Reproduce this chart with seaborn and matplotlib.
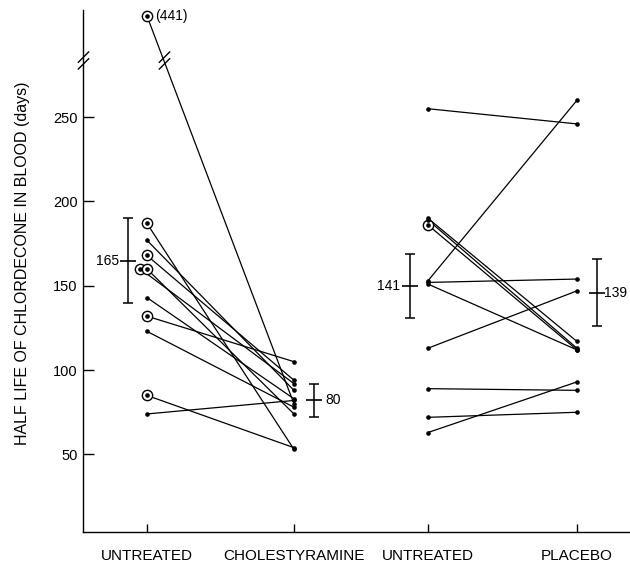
import numpy as np
import pandas as pd
import matplotlib
matplotlib.use("Agg")
import matplotlib.pyplot as plt
from matplotlib.path import Path
import seaborn as sns

# ---------------- data ----------------
conditions = ["UNTREATED", "CHOLESTYRAMINE", "UNTREATED", "PLACEBO"]

# Cholestyramine study: half life (days) untreated -> treated, per patient
chol_untreated = [441, 187, 177, 168, 160, 160, 143, 132, 123, 85, 74]
chol_treated = [80, 53, 88, 94, 92, 74, 83, 105, 78, 54, 82]
chol_circled = [True, True, False, True, True, True, False, True, False, True, False]

# Placebo study: half life (days) untreated -> placebo, per patient
plac_untreated = [255, 190, 189, 186, 153, 152, 151, 113, 89, 72, 63]
plac_treated = [246, 117, 113, 112, 260, 154, 112, 147, 88, 75, 93]
plac_circled = [False, False, False, True, False, False, False, False, False, False, False]

# group mean bars (as drawn) and their printed labels
mean_values = [165, 82, 150, 146]
mean_halfrange = [25, 10, 19, 20]
mean_labels = ["165", "80", "141", "139"]

# ---------------- layout ----------------
x_pos = [0.0, 1.0, 1.912, 2.925]
chol_nudge = [0, 0, 0, 0, -0.045, 0, 0, 0, 0, 0, 0]
bar_offset = [-0.131, 0.136, -0.122, 0.136]
label_side = ["left", "right", "left", "right"]
label_gap = [6, 8, 7, 5]
BREAK = 284.0
K = 0.166

rows = []
for i in range(len(chol_untreated)):
    rows.append(dict(patient=f"c{i}", x=x_pos[0] + chol_nudge[i], value=chol_untreated[i], circled=chol_circled[i]))
    rows.append(dict(patient=f"c{i}", x=x_pos[1], value=chol_treated[i], circled=False))
for i in range(len(plac_untreated)):
    rows.append(dict(patient=f"p{i}", x=x_pos[2], value=plac_untreated[i], circled=plac_circled[i]))
    rows.append(dict(patient=f"p{i}", x=x_pos[3], value=plac_treated[i], circled=False))
df = pd.DataFrame(rows)

sns.set_theme(style="white", rc={
    "text.color": "black", "axes.labelcolor": "black",
    "xtick.color": "black", "ytick.color": "black",
    "axes.edgecolor": "black",
})
plt.rcParams["font.family"] = ["Liberation Sans", "DejaVu Sans"]

fig = plt.figure(figsize=(6.3, 5.66), dpi=100)
ax = fig.add_axes([83 / 630, 34 / 566, 547 / 630, 522 / 566])

sns.lineplot(data=df, x="x", y="value", units="patient", estimator=None,
             color="black", linewidth=0.9, ax=ax, legend=False)
sns.scatterplot(data=df[df["circled"]], x="x", y="value", marker="o", s=55,
                facecolor="white", edgecolor="black", linewidth=1.0, ax=ax,
                zorder=3, legend=False)
sns.scatterplot(data=df, x="x", y="value", marker="o", s=11, color="black",
                linewidth=0, ax=ax, zorder=4, legend=False)


def fwd(v):
    v = np.asarray(v, dtype=float)
    return np.where(v <= BREAK, v, BREAK + (v - BREAK) * K)


def inv(u):
    u = np.asarray(u, dtype=float)
    return np.where(u <= BREAK, u, BREAK + (u - BREAK) / K)


ax.set_yscale("function", functions=(fwd, inv))
ax.set_ylim(4, 462)
ax.set_xlim(-0.435, 3.286)

# mean +/- bars
for j in range(4):
    bx = x_pos[j] + bar_offset[j]
    ax.errorbar([bx], [mean_values[j]], yerr=[mean_halfrange[j]], fmt="none",
                ecolor="black", elinewidth=1.1, capsize=3.5, capthick=1.1)
    ax.plot([bx], [mean_values[j]], marker="_", ms=12, mew=1.2, ls="none", color="black")
    if label_side[j] == "left":
        ax.annotate(mean_labels[j], (bx, mean_values[j]), xytext=(-label_gap[j], 0),
                    textcoords="offset points", ha="right", va="center", fontsize=10)
    else:
        ax.annotate(mean_labels[j], (bx, mean_values[j]), xytext=(label_gap[j], 0),
                    textcoords="offset points", ha="left", va="center", fontsize=10)

# label of the off-scale value
top_i = int(np.argmax(chol_untreated))
ax.annotate(f"({chol_untreated[top_i]})", (x_pos[0], chol_untreated[top_i]), xytext=(6, 0),
            textcoords="offset points", ha="left", va="center", fontsize=10)

# axis break marks
brk = Path([(-0.5, -0.8), (0.5, 0.2), (-0.5, -0.2), (0.5, 0.8)],
           [Path.MOVETO, Path.LINETO, Path.MOVETO, Path.LINETO])
ax.plot([ax.get_xlim()[0]], [BREAK], marker=brk, ms=13, mfc="none", mec="black",
        mew=1.0, ls="none", clip_on=False, zorder=5)
u_top = float(fwd(chol_untreated[top_i]))
u_bot = float(fwd(chol_treated[top_i]))
t = (u_top - BREAK) / (u_top - u_bot)
ax.plot([x_pos[0] + t * (x_pos[1] - x_pos[0])], [BREAK], marker=brk, ms=13, mfc="none",
        mec="black", mew=1.0, ls="none", zorder=5)

ax.set_yticks([50, 100, 150, 200, 250])
ax.set_yticklabels(["50", "100", "150", "200", "250"])
ax.set_xticks(x_pos)
ax.set_xticklabels(conditions)
ax.minorticks_off()
ax.tick_params(axis="y", direction="in", length=8, width=1, labelsize=10.5, pad=4, left=True)
ax.tick_params(axis="x", direction="in", length=6, width=1, labelsize=11, pad=12, bottom=True)
ax.set_xlabel("")
ax.set_ylabel("HALF LIFE OF CHLORDECONE IN BLOOD (days)", fontsize=11.5)
ax.yaxis.set_label_coords(-0.097, 0.515)

for s in ["top", "right"]:
    ax.spines[s].set_visible(False)
for s in ["left", "bottom"]:
    ax.spines[s].set_linewidth(1.0)
    ax.spines[s].set_color("black")

fig.savefig("out.png", dpi=100)
